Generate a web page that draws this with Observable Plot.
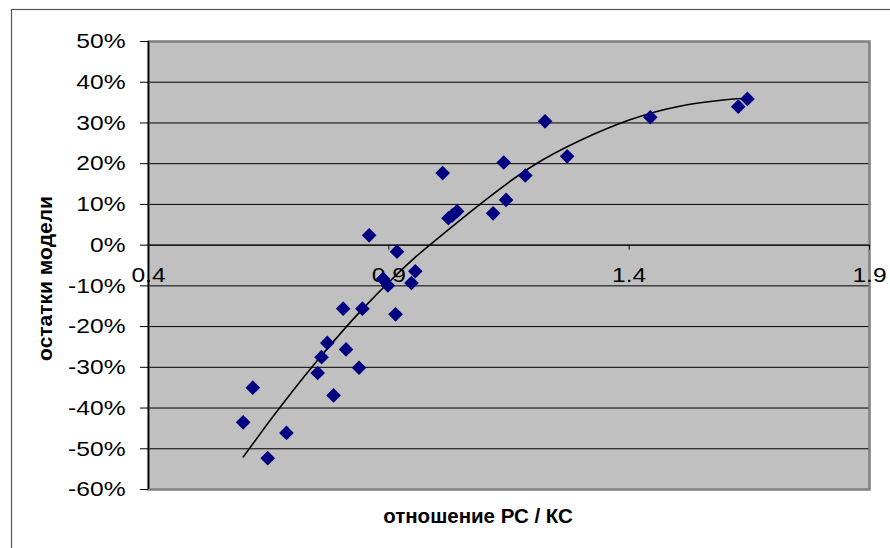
<!DOCTYPE html>
<html><head><meta charset="utf-8">
<script src="https://cdn.jsdelivr.net/npm/d3@7"></script>
<script src="https://cdn.jsdelivr.net/npm/@observablehq/plot@0.6"></script>
<style>
body{margin:0;background:#fff;}
#chart svg{display:block;}
</style>
</head><body><div id="chart"></div>
<script>
// отношение РС / КС
const ratio = [0.597, 0.617, 0.648, 0.687, 0.752, 0.760, 0.772, 0.785, 0.805, 0.811, 0.838, 0.845, 0.859, 0.888, 0.898, 0.914, 0.917, 0.947, 0.955, 1.012, 1.024, 1.032, 1.042, 1.117, 1.139, 1.144, 1.184, 1.225, 1.271, 1.444, 1.627, 1.646];
// остатки модели
const residual = [-0.435, -0.350, -0.523, -0.461, -0.314, -0.275, -0.240, -0.369, -0.156, -0.256, -0.301, -0.156, 0.024, -0.083, -0.099, -0.170, -0.016, -0.093, -0.064, 0.177, 0.066, 0.073, 0.083, 0.078, 0.203, 0.111, 0.171, 0.304, 0.218, 0.314, 0.340, 0.359];
// polynomial trend line
const trendX = [0.597, 0.65, 0.70, 0.75, 0.80, 0.85, 0.90, 0.95, 1.00, 1.10, 1.20, 1.30, 1.40, 1.50, 1.60, 1.646];
const trendY = [-0.520, -0.435, -0.358, -0.285, -0.216, -0.151, -0.091, -0.035, 0.015, 0.110, 0.195, 0.258, 0.307, 0.340, 0.357, 0.360];
const yTicks = [-0.6, -0.5, -0.4, -0.3, -0.2, -0.1, 0, 0.1, 0.2, 0.3, 0.4, 0.5];
const xTicks = [0.4, 0.9, 1.4, 1.9];
const xTitle = "отношение РС / КС";
const yTitle = "остатки модели";

const points = ratio.map((x, i) => ({x, y: residual[i]}));
const trend = trendX.map((x, i) => ({x, y: trendY[i]}));

const chart = Plot.plot({
  width: 890, height: 548,
  marginLeft: 148, marginRight: 21, marginTop: 41, marginBottom: 59,
  style: {fontFamily: "'Liberation Sans', Arial, sans-serif", fontSize: "21px", background: "#fff", overflow: "visible", color: "#000"},
  x: {domain: [0.4, 1.9], axis: null},
  y: {domain: [-0.6, 0.5], axis: null},
  marks: [
    Plot.frame({fill: "#c0c0c0"}),
    Plot.gridY(yTicks, {stroke: "#000", strokeOpacity: 1, strokeWidth: 1}),
    Plot.frame({stroke: "#808080", strokeWidth: 2.5}),
    Plot.axisY(yTicks, {tickFormat: d => Math.round(d * 100) + "%", tickSize: 8, tickPadding: 15, label: null, fontSize: 21, stroke: "#000", className: "tick-label-y"}),
    Plot.ruleX([0.4], {stroke: "#000", strokeWidth: 1.5}),
    Plot.ruleY([0], {stroke: "#000", strokeWidth: 1}),
    Plot.ruleX(xTicks, {x: d => d, y1: 0, y2: 0, insetBottom: -5, stroke: "#000"}),
    Plot.text(xTicks, {x: d => d, y: 0, text: d => String(d), dy: 30, fontSize: 21, fill: "#000", className: "tick-label-x"}),
    Plot.line(trend, {x: "x", y: "y", curve: "natural", stroke: "#000", strokeWidth: 1.6}),
    Plot.dot(points, {x: "x", y: "y", symbol: "diamond2", r: 6.6, fill: "#000080", stroke: "none"}),
    Plot.text([xTitle], {frameAnchor: "bottom", dx: -31, dy: 33, fontWeight: "bold", fontSize: 20.5, fill: "#000"}),
    Plot.text([yTitle], {frameAnchor: "left", textAnchor: "middle", rotate: -90, dx: -103, dy: 13, fontWeight: "bold", fontSize: 21, fill: "#000"})
  ]
});

d3.select(chart).append("rect")
  .attr("x", 11.5).attr("y", 9.5).attr("width", 1000).attr("height", 1000)
  .attr("fill", "none").attr("stroke", "#555").attr("stroke-width", 1.2);

document.getElementById("chart").appendChild(chart);

// the reference's tick labels are slightly wide: stretch them horizontally
d3.select(chart).selectAll("g.tick-label-y text, g.tick-label-x text").each(function() {
  const w = this.getComputedTextLength();
  this.setAttribute("textLength", (w * 1.17).toFixed(1));
  this.setAttribute("lengthAdjust", "spacingAndGlyphs");
});
</script>
</body></html>
